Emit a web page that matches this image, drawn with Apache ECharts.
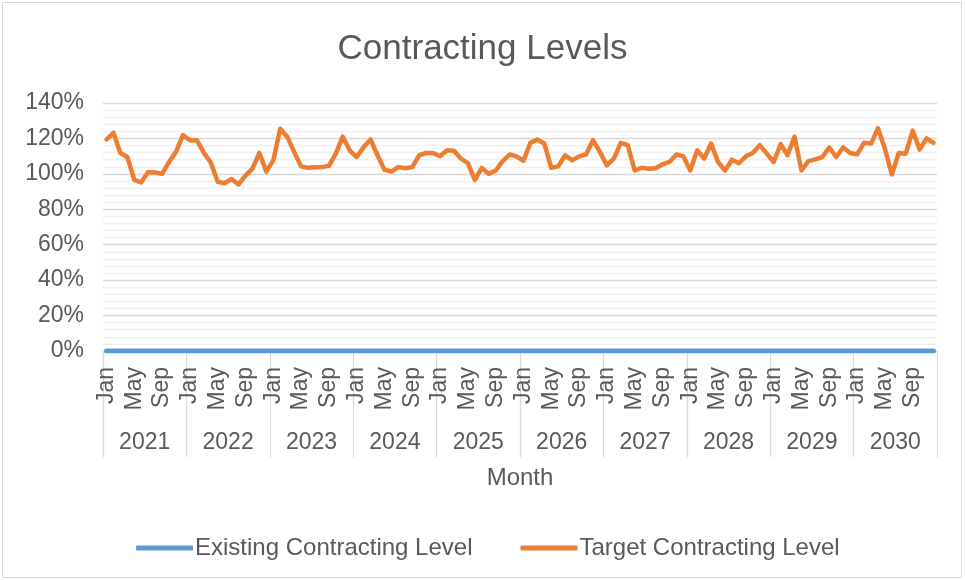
<!DOCTYPE html>
<html>
<head>
<meta charset="utf-8">
<title>Contracting Levels</title>
<script src="https://cdn.jsdelivr.net/npm/echarts@6/dist/echarts.min.js"></script>
<style>
    html, body { margin: 0; padding: 0; background: #fff; }
    #chart { width: 965px; height: 580px; }
</style>
</head>
<body>
<div id="chart"></div>
<script>
/**
 * 图表数据 (百分比)
 */
const months = ['Jan', 'Feb', 'Mar', 'Apr', 'May', 'Jun', 'Jul', 'Aug', 'Sep', 'Oct', 'Nov', 'Dec'];
const years = ['2021', '2022', '2023', '2024', '2025', '2026', '2027', '2028', '2029', '2030'];
const yTicks = [0, 20, 40, 60, 80, 100, 120, 140];

const target2021 = [119.4, 123.2, 111.8, 109.5, 96.6, 95.2, 101, 100.8, 100, 106.7, 112.4, 121.9];
const target2022 = [119, 119, 112, 106.5, 95.5, 94.7, 97.1, 94, 99, 102.9, 111.8, 101.3];
const target2023 = [107.6, 125.5, 121, 112.4, 104.2, 103.4, 103.7, 103.8, 104.5, 111.4, 121, 113.3];
const target2024 = [109.5, 115.2, 119.4, 110.5, 102.3, 101.3, 103.8, 103.2, 103.8, 110.5, 111.8, 111.8];
const target2025 = [109.9, 113.3, 113, 108.6, 106.1, 96.6, 103.4, 100, 101.9, 107.2, 110.9, 109.9];
const target2026 = [107.4, 117.5, 119.4, 117.1, 103.4, 104.2, 110.5, 107.6, 109.9, 110.9, 119, 112.4];
const target2027 = [104.8, 108.6, 117.5, 116.2, 101.9, 103.4, 102.9, 103.2, 105.3, 106.7, 110.9, 109.9];
const target2028 = [101.9, 113.3, 108.6, 117.1, 106.7, 101.9, 108, 106, 109.9, 111.8, 116.2, 111.4];
const target2029 = [106.7, 116.8, 110.5, 121, 101.9, 107.2, 108.2, 109.5, 114.9, 109.5, 114.9, 111.8];
const target2030 = [111, 117.5, 117.1, 125.7, 114.3, 99.6, 111.8, 111.4, 124.4, 113.7, 120, 117.5];

const existingLevel = [
    0, 0, 0, 0, 0, 0, 0, 0, 0, 0, 0, 0,
    0, 0, 0, 0, 0, 0, 0, 0, 0, 0, 0, 0,
    0, 0, 0, 0, 0, 0, 0, 0, 0, 0, 0, 0,
    0, 0, 0, 0, 0, 0, 0, 0, 0, 0, 0, 0,
    0, 0, 0, 0, 0, 0, 0, 0, 0, 0, 0, 0,
    0, 0, 0, 0, 0, 0, 0, 0, 0, 0, 0, 0,
    0, 0, 0, 0, 0, 0, 0, 0, 0, 0, 0, 0,
    0, 0, 0, 0, 0, 0, 0, 0, 0, 0, 0, 0,
    0, 0, 0, 0, 0, 0, 0, 0, 0, 0, 0, 0,
    0, 0, 0, 0, 0, 0, 0, 0, 0, 0, 0, 0
];

const targetLevel = [].concat(
    target2021, target2022, target2023, target2024, target2025,
    target2026, target2027, target2028, target2029, target2030
);

// 每年 12 个月的类目
const categories = [];
years.forEach(() => {
    months.forEach(m => categories.push(m));
});

const font = "'Liberation Sans', Arial, sans-serif";
const textColor = '#595959';
const gridColor = '#d9d9d9';

const chart = echarts.init(document.getElementById('chart'));

chart.setOption({
    animation: false,
    textStyle: { fontFamily: font },
    title: {
        text: 'Contracting Levels',
        left: 'center',
        top: 27,
        textStyle: { fontFamily: font, fontSize: 35, fontWeight: 'normal', color: textColor }
    },
    legend: {
        left: 131,
        top: 531,
        itemGap: 48,
        itemWidth: 57,
        itemHeight: 5,
        icon: 'roundRect',
        textStyle: { fontFamily: font, fontSize: 24, color: textColor, padding: [0, 0, 0, -3] },
        data: ['Existing Contracting Level', 'Target Contracting Level']
    },
    graphic: [{
        type: 'rect',
        shape: { x: 2.5, y: 2.5, width: 959, height: 575 },
        style: { fill: 'none', stroke: gridColor, lineWidth: 1 },
        silent: true
    }],
    grid: {
        left: 103,
        right: 28,
        top: 103,
        bottom: 229,
        containLabel: false
    },
    xAxis: [{
        type: 'category',
        data: categories,
        boundaryGap: true,
        position: 'bottom',
        axisLine: { show: true, lineStyle: { color: gridColor } },
        axisTick: { show: false },
        axisLabel: {
            interval: i => i % 4 === 0,
            rotate: 90,
            margin: 16,
            fontFamily: font,
            fontSize: 23,
            color: textColor
        },
        splitLine: { show: false }
    }, {
        type: 'category',
        data: years,
        boundaryGap: true,
        position: 'bottom',
        axisLine: { show: false },
        axisTick: {
            show: true,
            interval: 0,
            length: 106,
            lineStyle: { color: gridColor, width: 1.3 }
        },
        axisLabel: {
            interval: 0,
            margin: 80,
            fontFamily: font,
            fontSize: 23,
            color: textColor
        },
        name: 'Month',
        nameLocation: 'middle',
        nameGap: 115,
        nameTextStyle: { fontFamily: font, fontSize: 24, color: textColor },
        splitLine: { show: false }
    }],
    yAxis: {
        type: 'value',
        min: yTicks[0],
        max: yTicks[yTicks.length - 1],
        interval: 20,
        axisLine: { show: false },
        axisTick: { show: false },
        axisLabel: {
            formatter: '{value}%',
            margin: 19,
            fontFamily: font,
            fontSize: 23,
            color: textColor
        },
        splitLine: { lineStyle: { color: gridColor, width: 1.3 } },
        minorTick: { show: false, splitNumber: 5 },
        minorSplitLine: { show: true, lineStyle: { color: '#f0f0f0', width: 1.3 } }
    },
    series: [{
        name: 'Existing Contracting Level',
        type: 'line',
        data: existingLevel,
        showSymbol: false,
        color: '#5B9BD5',
        lineStyle: { width: 5, color: '#5B9BD5', cap: 'round', join: 'round' },
        z: 2
    }, {
        name: 'Target Contracting Level',
        type: 'line',
        data: targetLevel,
        showSymbol: false,
        color: '#ED7D31',
        lineStyle: { width: 4.5, color: '#ED7D31', cap: 'round', join: 'round' },
        z: 3
    }]
});
</script>
</body>
</html>
